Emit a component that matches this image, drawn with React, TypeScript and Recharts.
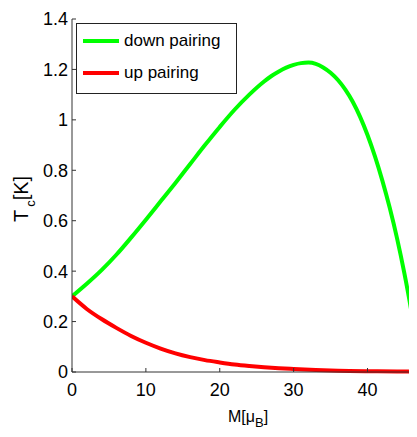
import { LineChart, Line, XAxis, YAxis } from 'recharts'

// down pairing (green)
const downM = [0, 2, 4, 6, 8, 10, 12, 14, 16, 18, 20, 22, 24, 26, 27, 28, 29, 30, 31, 32, 33, 34, 35, 36, 37, 38, 39, 40, 41, 42, 43, 44, 45, 46, 46.7, 47]
const downTc = [0.3, 0.35, 0.404, 0.465, 0.533, 0.604, 0.677, 0.75, 0.825, 0.9, 0.972, 1.04, 1.1, 1.152, 1.174, 1.192, 1.207, 1.218, 1.225, 1.227, 1.222, 1.208, 1.187, 1.158, 1.12, 1.072, 1.012, 0.94, 0.856, 0.76, 0.652, 0.53, 0.39, 0.23, 0.1, 0.03]

// up pairing (red)
const upM = [0, 2, 4, 6, 8, 10, 12, 14, 16, 18, 20, 22, 24, 26, 28, 30, 33, 36, 40, 44, 47]
const upTc = [0.3, 0.25, 0.21, 0.175, 0.143, 0.116, 0.093, 0.074, 0.059, 0.047, 0.038, 0.03, 0.024, 0.019, 0.015, 0.012, 0.008, 0.005, 0.003, 0.002, 0.001]

const xTicks = [0, 10, 20, 30, 40]
const yTicks = [0, 0.2, 0.4, 0.6, 0.8, 1, 1.2, 1.4]

const series = [
  { name: 'down pairing', color: '#00ff00' },
  { name: 'up pairing', color: '#ff0000' },
]

const downData = downM.map((m, i) => ({ m, tc: downTc[i] }))
const upData = upM.map((m, i) => ({ m, tc: upTc[i] }))

const font = '"Liberation Sans", Arial, sans-serif'
const axisColor = '#333'
const blank = () => ''

export default function App() {
  return (
    <div style={{ position: 'relative', width: 409, height: 429, marginBottom: -8, fontFamily: font }}>
      <LineChart width={409} height={429} data={downData} margin={{ top: 11, right: 0, bottom: 0, left: 0 }}>
        <XAxis
          dataKey="m"
          type="number"
          domain={[0, 46.7]}
          ticks={xTicks}
          allowDataOverflow
          height={65}
          tickSize={-4}
          tickMargin={15}
          stroke={axisColor}
          tick={{ fill: '#000', fontSize: 18, fontFamily: font }}
          label={{
            content: () => (
              <text x={220} y={414} fontSize={16} fontFamily={font} fill="#000">
                M[μ<tspan dy={5} fontSize={13}>B</tspan>
                <tspan dy={-5}>]</tspan>
              </text>
            ),
          }}
        />
        <XAxis
          xAxisId="top"
          orientation="top"
          dataKey="m"
          type="number"
          domain={[0, 46.7]}
          ticks={xTicks}
          height={0}
          tickSize={-4}
          tickFormatter={blank}
          stroke={axisColor}
        />
        <YAxis
          type="number"
          domain={[0, 1.4]}
          ticks={yTicks}
          width={64}
          tickSize={-4}
          tickMargin={8}
          stroke={axisColor}
          tick={{ fill: '#000', fontSize: 18, fontFamily: font }}
          label={{
            content: () => (
              <text x={20} y={214} transform="rotate(-90 20 214)" fontSize={20} fontFamily={font} fill="#000">
                T<tspan dx={3} dy={7} fontSize={13}>c</tspan>
                <tspan dy={-7}>[K]</tspan>
              </text>
            ),
          }}
        />
        <Line
          data={downData}
          dataKey="tc"
          type="monotone"
          stroke={series[0].color}
          strokeWidth={4}
          dot={false}
          activeDot={false}
          isAnimationActive={false}
        />
        <Line
          data={upData}
          dataKey="tc"
          type="monotone"
          stroke={series[1].color}
          strokeWidth={4}
          dot={false}
          activeDot={false}
          isAnimationActive={false}
        />
      </LineChart>
      <div
        style={{
          position: 'absolute',
          left: 68,
          top: 15,
          width: 161,
          height: 71,
          boxSizing: 'border-box',
          border: '1px solid #222',
          background: '#fff',
        }}
      >
        {series.map((s, i) => (
          <div key={s.name} style={{ position: 'absolute', left: 6, top: 6 + i * 32, height: 22, display: 'flex', alignItems: 'center' }}>
            <div style={{ width: 36, height: 4, background: s.color }} />
            <span style={{ marginLeft: 5, fontSize: 17, color: '#000', whiteSpace: 'nowrap' }}>{s.name}</span>
          </div>
        ))}
      </div>
    </div>
  )
}
